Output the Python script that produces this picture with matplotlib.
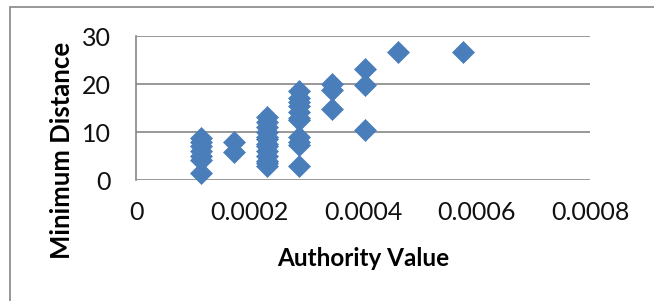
import matplotlib
matplotlib.use('Agg')
import matplotlib.pyplot as plt
import matplotlib.patches as patches

plt.rcParams['font.family'] = ['Lato', 'DejaVu Sans']

x_cols = [0.000115, 0.000173, 0.000231, 0.000288, 0.000346, 0.000404, 0.000462, 0.000577]
y_cols = [
    [8.7, 8.0, 7.0, 6.0, 5.0, 4.2, 1.4],
    [8.0, 5.9],
    [13.1, 12.0, 11.0, 10.0, 9.0, 8.5, 7.5, 7.0, 6.0, 5.0, 4.0, 3.5, 2.9],
    [18.5, 17.0, 16.3, 15.5, 14.2, 13.0, 12.5, 9.0, 8.0, 7.2, 3.0],
    [20.1, 18.8, 14.7],
    [23.1, 19.8, 10.4],
    [26.7],
    [26.7],
]
x_ticks = [0, 0.0002, 0.0004, 0.0006, 0.0008]
x_labels = ['0', '0.0002', '0.0004', '0.0006', '0.0008']
y_ticks = [0, 10, 20, 30]

auth = []
dist = []
for xv, ys in zip(x_cols, y_cols):
    for yv in ys:
        auth.append(xv)
        dist.append(yv)

fig = plt.figure(figsize=(6.54, 3.01), dpi=100)
ax = fig.add_axes([136/654, 1 - 180/301, 454/654, 144/301])

# outer chart border (cropped on the right and bottom)
fig.patches.append(patches.Rectangle((10/654, -0.1), 1.0, 1 - 7/301 + 0.1,
                                     transform=fig.transFigure, fill=False,
                                     edgecolor='#868686', linewidth=1.2))

ax.scatter(auth, dist, marker='D', s=125, color='#4A7EBB', edgecolors='#4A7EBB',
           linewidths=0.5, zorder=3, clip_on=False)

ax.set_xlim(0, 0.0008)
ax.set_ylim(0, 30)
ax.set_xticks(x_ticks)
ax.set_xticklabels(x_labels)
ax.set_yticks(y_ticks)
ax.yaxis.grid(True, color='#868686', linewidth=1.2)
ax.set_axisbelow(True)
for s in ['top', 'right', 'bottom']:
    ax.spines[s].set_visible(False)
ax.spines['left'].set_color('#868686')
ax.spines['left'].set_linewidth(1.2)
ax.tick_params(axis='both', length=0, labelsize=18, labelcolor='#111111')
ax.tick_params(axis='x', pad=15)
ax.tick_params(axis='y', pad=18)

ax.set_xlabel('Authority Value', fontsize=17.5, fontweight='bold', va='center')
ax.set_ylabel('Minimum Distance', fontsize=18.5, fontweight='bold', va='center')
ax.xaxis.set_label_coords((363 - 136) / 454, (180 - 258) / 144)
ax.yaxis.set_label_coords((62 - 136) / 454, (180 - 150) / 144)

fig.savefig('out.png', dpi=100)
